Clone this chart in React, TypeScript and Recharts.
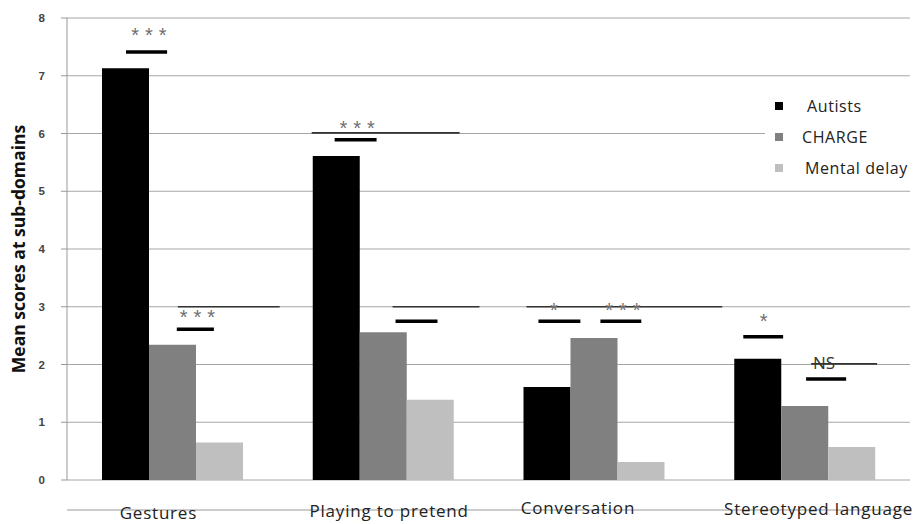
import React from 'react';
import {
  BarChart, Bar, XAxis, YAxis, CartesianGrid, ReferenceLine, ReferenceDot,
} from 'recharts';

// ---- data ----
const CATEGORIES = ['Gestures', 'Playing to pretend', 'Conversation', 'Stereotyped language'];
const AUTISTS = [7.13, 5.61, 1.61, 2.1];
const CHARGE = [2.34, 2.56, 2.46, 1.28];
const MENTAL_DELAY = [0.65, 1.39, 0.31, 0.57];
const Y_TICKS = [0, 1, 2, 3, 4, 5, 6, 7, 8];
const SERIES_NAMES = ['Autists', 'CHARGE', 'Mental delay'];

// significance annotations (x in group units 0..4, y in score units)
const SHORT_BARS: [number, number, number][] = [
  [0.28, 0.475, 7.41],
  [0.521, 0.697, 2.61],
  [1.27, 1.469, 5.89],
  [1.559, 1.758, 2.75],
  [2.237, 2.436, 2.75],
  [2.531, 2.725, 2.75],
  [3.209, 3.398, 2.48],
  [3.507, 3.697, 1.75],
];
const SPAN_LINES: [number, number, number][] = [
  [0.526, 1.009, 3.0],
  [1.161, 1.863, 6.01],
  [1.545, 1.957, 3.0],
  [2.18, 3.109, 3.0],
  [3.531, 3.844, 2.01],
];
const SIG_LABELS: [string, number, number][] = [
  ['***', 0.386, 7.79],
  ['***', 0.616, 2.91],
  ['***', 1.374, 6.18],
  ['*', 2.308, 3.03],
  ['***', 2.635, 3.03],
  ['*', 3.303, 2.84],
  ['NS', 3.592, 2.04],
];

const COLORS = ['#000000', '#808080', '#bfbfbf'];
const TICK_SHIFT: [number, number][] = [[-14, 39], [6, 37], [-16, 34], [14, 35]];
const FONT = "'Open Sans', sans-serif";

const data = CATEGORIES.map((c, i) => ({
  name: c,
  slot: i + 0.5,
  Autists: AUTISTS[i],
  CHARGE: CHARGE[i],
  'Mental delay': MENTAL_DELAY[i],
}));

const XTick = (props: any) => {
  const { x, payload, index } = props;
  const [dx, dy] = TICK_SHIFT[index] || [0, 36];
  return (
    <text x={x + dx} y={480 + dy} textAnchor="middle" fontFamily={FONT} fontSize={17} letterSpacing={0.8} fill="#222">
      {payload.value}
    </text>
  );
};

const YLabel = (props: any) => {
  const vb = props.viewBox || { y: 18, height: 462 };
  const cy = vb.y + vb.height / 2;
  return (
    <text x={0} y={0} transform={`translate(25, ${cy}) rotate(-90)`} textAnchor="middle" fontFamily={FONT} fontWeight="bold" fontSize={17.5} fill="#111">
      Mean scores at sub-domains
    </text>
  );
};

const SigLabel = (text: string) => (p: any) => {
  if (text === 'NS') {
    return (
      <text x={p.cx} y={p.cy + 7} textAnchor="middle" fontFamily={FONT} fontSize={17} fill="#333">
        {text}
      </text>
    );
  }
  return (
    <text x={p.cx + 3.5} y={p.cy + 12} textAnchor="middle" fontFamily="'Liberation Sans', Arial, sans-serif" fontSize={20} letterSpacing={6} fill="#6e6e6e">
      {text}
    </text>
  );
};

const LegendBox = () => (
  <div style={{ position: 'absolute', left: 765, top: 88, width: 154, height: 95, background: '#fff' }}>
    {SERIES_NAMES.map((n, i) => (
      <div key={n} style={{ position: 'absolute', left: 0, top: 8 + i * 31, height: 20, display: 'flex', alignItems: 'center' }}>
        <div style={{ width: 8, height: 8, background: COLORS[i], marginLeft: 10 }} />
        <span style={{ marginLeft: i === 0 ? 24 : i === 1 ? 19 : 22, fontFamily: FONT, fontSize: 16, letterSpacing: 0.6, color: '#222', lineHeight: '20px' }}>{n}</span>
      </div>
    ))}
  </div>
);

export default function App() {
  return (
    <div style={{ position: 'absolute', left: 0, top: 0, width: 919, height: 524, background: '#fff' }}>
      <BarChart
        width={919}
        height={524}
        data={data}
        margin={{ top: 18, right: 9, bottom: 0, left: 0 }}
        barGap={0}
        barSize={47}
      >
        <CartesianGrid horizontal vertical={false} stroke="#a6a6a6" />
        <XAxis
          dataKey="name"
          xAxisId="cat"
          height={44}
          tickLine={false}
          axisLine={{ stroke: '#999' }}
          tick={<XTick />}
          interval={0}
        />
        <XAxis xAxisId="ann" dataKey="slot" type="number" domain={[0, 4]} hide allowDataOverflow />
        <YAxis
          width={67}
          domain={[0, 8]}
          ticks={Y_TICKS}
          interval={0}
          tickSize={6}
          tickMargin={16}
          axisLine={{ stroke: '#999' }}
          tickLine={{ stroke: '#999' }}
          tick={{ fill: '#444', fontSize: 11.5, fontFamily: "'Liberation Sans', Arial, sans-serif", fontWeight: 'bold' }}
          label={<YLabel />}
        />
        {SERIES_NAMES.map((n, i) => (
          <Bar key={n} dataKey={n} xAxisId="cat" fill={COLORS[i]} isAnimationActive={false} />
        ))}
        {SPAN_LINES.map(([a, b, y], i) => (
          <ReferenceLine key={'s' + i} xAxisId="ann" segment={[{ x: a, y }, { x: b, y }]} stroke="#333" strokeWidth={1.6} ifOverflow="visible" />
        ))}
        {SHORT_BARS.map(([a, b, y], i) => (
          <ReferenceLine key={'b' + i} xAxisId="ann" segment={[{ x: a, y }, { x: b, y }]} stroke="#000" strokeWidth={3.5} ifOverflow="visible" />
        ))}
        {SIG_LABELS.map(([t, x, y], i) => (
          <ReferenceDot key={'l' + i} xAxisId="ann" x={x} y={y} r={0} ifOverflow="visible" shape={SigLabel(t)} />
        ))}
      </BarChart>
      <LegendBox />
    </div>
  );
}
